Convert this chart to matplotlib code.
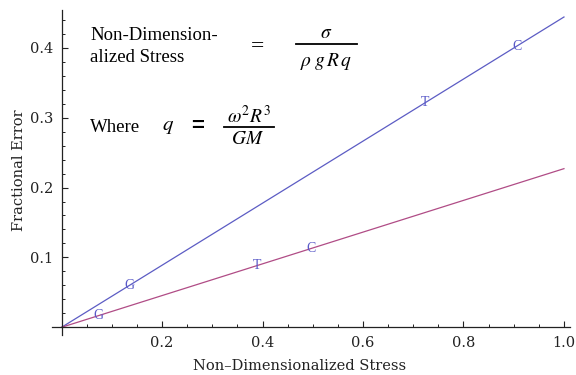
import matplotlib
matplotlib.use("Agg")
import matplotlib.pyplot as plt
import numpy as np
from matplotlib.ticker import FixedLocator

# data
x_range = [0.0, 1.0]
blue_slope = 0.444
pink_slope = 0.227
blue_labels = ["G", "T", "C"]
blue_label_x = [0.136, 0.723, 0.906]
pink_labels = ["G", "T", "C"]
pink_label_x = [0.073, 0.39, 0.497]
x_ticks = [0.2, 0.4, 0.6, 0.8, 1.0]
y_ticks = [0.1, 0.2, 0.3, 0.4]

BLUE = "#5c5cc4"
PINK = "#b04c86"
LBL = "#5a5ac8"
SERIF = "DejaVu Serif"

W, H = 576, 375
fig = plt.figure(figsize=(W / 100, H / 100), dpi=100)
fig.patch.set_facecolor("white")
ax = fig.add_axes([52 / W, (H - 335) / H, (570 - 52) / W, (335 - 10) / H])
ax.set_xlim(-0.019, 1.012)
ax.set_ylim(-0.011, 0.454)

xs = np.array(x_range)
ax.plot(xs, blue_slope * xs, color=BLUE, lw=0.9)
ax.plot(xs, pink_slope * xs, color=PINK, lw=0.9)

for lab, lx in zip(blue_labels, blue_label_x):
    ax.text(lx, blue_slope * lx, lab, color=LBL, fontsize=10, family="Liberation Serif",
            ha="center", va="center")
for lab, lx in zip(pink_labels, pink_label_x):
    ax.text(lx, pink_slope * lx, lab, color=LBL, fontsize=10, family="Liberation Serif",
            ha="center", va="center")

for s in ["top", "right"]:
    ax.spines[s].set_visible(False)
ax.spines["left"].set_position(("data", 0))
ax.spines["bottom"].set_position(("data", 0))
for s in ["left", "bottom"]:
    ax.spines[s].set_linewidth(0.9)
    ax.spines[s].set_color("#222222")

ax.xaxis.set_major_locator(FixedLocator(x_ticks))
ax.yaxis.set_major_locator(FixedLocator(y_ticks))
ax.xaxis.set_minor_locator(FixedLocator([v for v in np.arange(0.05, 1.001, 0.05) if abs(v / 0.2 - round(v / 0.2)) > 1e-6]))
ax.yaxis.set_minor_locator(FixedLocator([v for v in np.arange(0.02, 0.451, 0.02) if abs(v / 0.1 - round(v / 0.1)) > 1e-6]))
ax.set_xticklabels([f"{v:.1f}" for v in x_ticks])
ax.set_yticklabels([f"{v:.1f}" for v in y_ticks])
ax.tick_params(which="major", direction="in", length=4, width=0.8, labelsize=10.5, pad=6, color="#222222")
ax.tick_params(which="minor", direction="in", length=2.5, width=0.7, color="#222222")
for t in ax.get_xticklabels() + ax.get_yticklabels():
    t.set_family(SERIF)
    t.set_color("#222222")

fig.text(300 / W, 1 - 366 / H, "Non\u2013Dimensionalized Stress", family=SERIF, fontsize=10.5,
         ha="center", va="center", color="#222222")
fig.text(19 / W, 1 - 170 / H, "Fractional Error", family=SERIF, fontsize=10.5, rotation=90,
         ha="center", va="center", color="#222222")

# annotations (pixel coords)
def ftxt(px, py, s, **kw):
    kw.setdefault("family", "Liberation Serif")
    kw.setdefault("color", "black")
    fig.text(px / W, 1 - py / H, s, **kw)

ftxt(90, 36, "Non-Dimension-", fontsize=13.5, ha="left", va="center")
ftxt(90, 58, "alized Stress", fontsize=13.5, ha="left", va="center")
ftxt(258, 47, "=", fontsize=17, ha="center", va="center")
ftxt(326, 34, r"$\sigma$", fontsize=14, ha="center", va="center", math_fontfamily="stix")
fig.add_artist(plt.Line2D([296 / W, 357 / W], [1 - 44 / H, 1 - 44 / H], color="black", lw=1.3))
ftxt(326, 61, r"$\rho\;g\,R\,q$", fontsize=14, ha="center", va="center", math_fontfamily="stix")

ftxt(90, 128, "Where", fontsize=13.5, ha="left", va="center")
ftxt(168, 127, r"$q$", fontsize=15, ha="center", va="center", math_fontfamily="stix")
ftxt(198, 127, "=", fontsize=16, ha="center", va="center", weight="bold", family="Liberation Sans")
ftxt(249, 116, r"$\omega^2R^3$", fontsize=14, ha="center", va="center", math_fontfamily="stix")
fig.add_artist(plt.Line2D([224 / W, 274 / W], [1 - 127 / H, 1 - 127 / H], color="black", lw=1.3))
ftxt(248, 140, r"$GM$", fontsize=14, ha="center", va="center", math_fontfamily="stix")

fig.savefig("out.png", dpi=100)
